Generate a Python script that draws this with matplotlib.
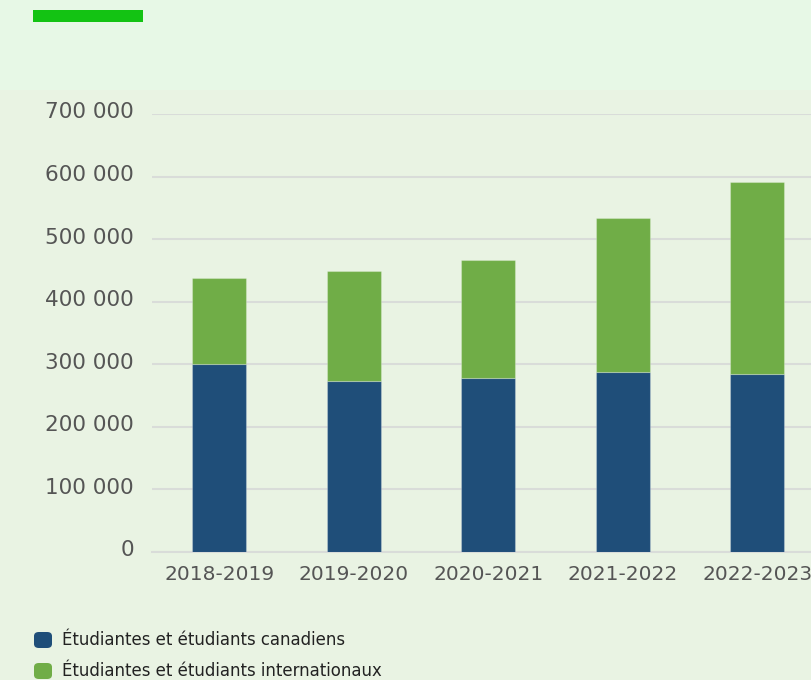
import matplotlib
matplotlib.use("Agg")
import matplotlib.pyplot as plt
import matplotlib.transforms as mtransforms
from matplotlib.patches import Rectangle, FancyBboxPatch
from matplotlib.ticker import FuncFormatter
import numpy as np

categories = ["2018-2019", "2019-2020", "2020-2021", "2021-2022", "2022-2023"]
canadiens = [300000, 274000, 278000, 288000, 285000]
internationaux = [137500, 174600, 188700, 245800, 305800]
series_names = ["Étudiantes et étudiants canadiens", "Étudiantes et étudiants internationaux"]
colors = ["#1f4e79", "#70ad47"]
yticks = [0, 100000, 200000, 300000, 400000, 500000, 600000, 700000]

W, H = 811, 680
fig = plt.figure(figsize=(W / 100, H / 100), dpi=100)
fig.patch.set_facecolor("#e9f3e3")
# top band
fig.patches.append(Rectangle((0, (H - 90) / H), 1, 90 / H, transform=fig.transFigure,
                             facecolor="#e7f8e6", edgecolor="none", zorder=0))
fig.patches.append(Rectangle((33 / W, (H - 22) / H), 110 / W, 12 / H, transform=fig.transFigure,
                             facecolor="#13c313", edgecolor="none", zorder=1))

ax = fig.add_axes([152 / W, 128 / H, (W - 152) / W, (552 - 114) / H])
ax.set_facecolor("none")
x = np.arange(len(categories))
ax.bar(x, canadiens, width=0.4, color=colors[0], edgecolor="#ffffff40", linewidth=0.8, zorder=3)
ax.bar(x, internationaux, bottom=canadiens, width=0.4, color=colors[1],
       edgecolor="#ffffff40", linewidth=0.8, zorder=3)

ax.set_xlim(-0.5, 4.4)
ax.set_ylim(0, 700000)
ax.set_yticks(yticks)
ax.yaxis.set_major_formatter(FuncFormatter(lambda v, p: f"{int(v):,}".replace(",", " ")))
ax.set_xticks(x)
ax.set_xticklabels(categories)
ax.grid(axis="y", color="#d9dcd9", linewidth=1.5, zorder=0)
ax.set_axisbelow(True)
for s in ["top", "right", "left"]:
    ax.spines[s].set_visible(False)
ax.spines["bottom"].set_color("#d9dcd9")
ax.spines["bottom"].set_linewidth(1.5)
ax.tick_params(axis="both", length=0, colors="#555555")
ax.tick_params(axis="y", pad=13, labelsize=15.5)
ax.tick_params(axis="x", pad=9, labelsize=14.5)
offset = mtransforms.ScaledTranslation(0, 3.5 / 100, fig.dpi_scale_trans)
for lbl in ax.get_yticklabels():
    lbl.set_transform(lbl.get_transform() + offset)

# legend
for i, (name, c) in enumerate(zip(series_names, colors)):
    yc = 640 + i * 31
    fig.patches.append(FancyBboxPatch((34 / W, (H - yc - 8) / H), 18 / W, 16 / H,
                                      boxstyle="round,pad=0,rounding_size=0.006",
                                      transform=fig.transFigure, facecolor=c, edgecolor="none"))
    fig.text(62 / W, (H - yc) / H, name, va="center", ha="left", fontsize=13.2,
             color="#222222", family="DejaVu Sans", fontstretch="condensed")

fig.savefig("out.png", dpi=100, facecolor=fig.get_facecolor())
